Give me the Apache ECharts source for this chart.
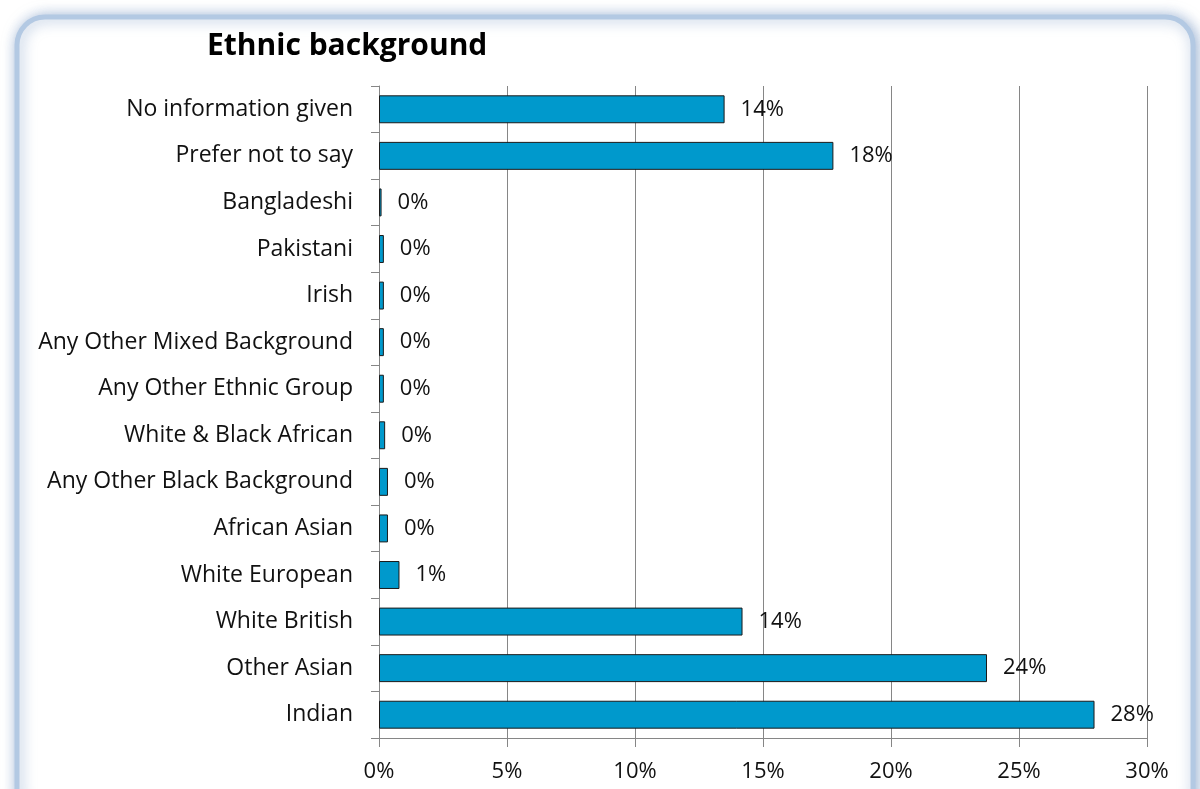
<!DOCTYPE html>
<html>
<head>
<meta charset="utf-8">
<script src="https://cdn.jsdelivr.net/npm/echarts@6/dist/echarts.min.js"></script>
<style>
html,body{margin:0;padding:0;background:#fff;}
#chart{width:1200px;height:789px;}
</style>
</head>
<body>
<div id="chart"></div>
<script>
var categories = [
  'No information given',
  'Prefer not to say',
  'Bangladeshi',
  'Pakistani',
  'Irish',
  'Any Other Mixed Background',
  'Any Other Ethnic Group',
  'White & Black African',
  'Any Other Black Background',
  'African Asian',
  'White European',
  'White British',
  'Other Asian',
  'Indian'
];
var values = [13.5, 17.75, 0.1, 0.19, 0.19, 0.19, 0.19, 0.24, 0.35, 0.35, 0.8, 14.2, 23.75, 27.95];
var xTicks = [0, 5, 10, 15, 20, 25, 30];

var chart = echarts.init(document.getElementById('chart'));
var font = '"Open Sans", sans-serif';
chart.setOption({
  animation: false,
  graphic: [{
    type: 'rect',
    shape: {x: 17, y: 17, width: 1176, height: 800, r: 28},
    style: {fill: '#ffffff', stroke: '#b3c9e3', lineWidth: 5,
      shadowBlur: 14, shadowColor: 'rgba(110,145,190,0.65)', shadowOffsetX: 2, shadowOffsetY: 1},
    z: -10, silent: true
  }],
  title: {
    text: 'Ethnic background',
    left: 202, top: 26,
    textStyle: {fontFamily: font, fontWeight: 'bold', fontSize: 30, color: '#000'}
  },
  grid: {left: 379, right: 53, top: 86, bottom: 51},
  xAxis: {
    type: 'value', min: xTicks[0], max: xTicks[xTicks.length - 1], interval: 5,
    axisLine: {show: true, lineStyle: {color: '#868686'}},
    axisTick: {show: true, length: 9, lineStyle: {color: '#868686'}},
    splitLine: {show: true, lineStyle: {color: '#868686', width: 1}},
    axisLabel: {margin: 23, fontFamily: font, fontSize: 22, color: '#111',
      formatter: function (v) { return v + '%'; }}
  },
  yAxis: {
    type: 'category', data: categories, inverse: true,
    axisLine: {show: true, lineStyle: {color: '#868686'}},
    axisTick: {show: true, length: 8, lineStyle: {color: '#868686'}},
    axisLabel: {margin: 26, fontFamily: font, fontSize: 23, color: '#111', padding: [3, 0, 0, 0]}
  },
  series: [{
    type: 'bar', data: values, barWidth: '60%',
    itemStyle: {color: '#0099cc', borderColor: '#1a1a1a', borderWidth: 1},
    label: {show: true, position: 'right', distance: 16, fontFamily: font, fontSize: 22, color: '#111',
      padding: [3, 0, 0, 0],
      formatter: function (p) { return Math.round(p.value) + '%'; }}
  }]
});
</script>
</body>
</html>
